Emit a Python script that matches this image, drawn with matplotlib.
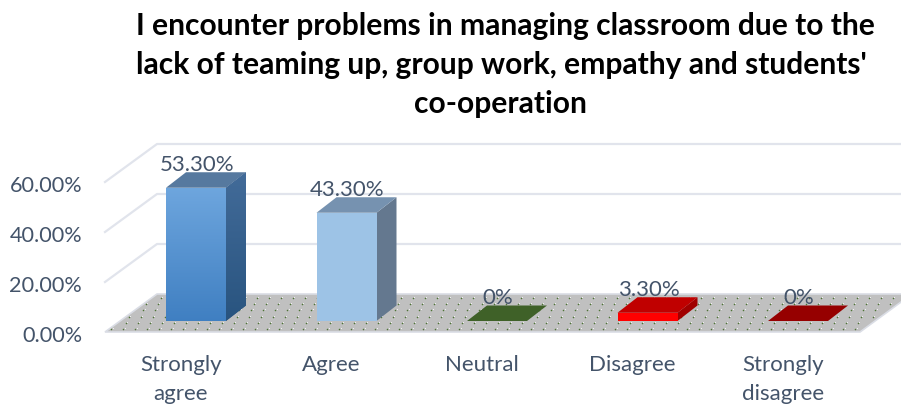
import numpy as np
import matplotlib
matplotlib.use('Agg')
import matplotlib.pyplot as plt
from matplotlib.patches import Polygon

plt.rcParams['font.family'] = ['Lato', 'DejaVu Sans']

categories = ['Strongly\nagree', 'Agree', 'Neutral', 'Disagree', 'Strongly\ndisagree']
values = [53.3, 43.3, 0, 3.3, 0]
value_labels = ['53.30%', '43.30%', '0%', '3.30%', '0%']
tick_values = [0, 20, 40, 60]
tick_labels = ['0.00%', '20.00%', '40.00%', '60.00%']
title_lines = ["I encounter problems in managing classroom due to the",
               "lack of teaming up, group work, empathy and students'",
               "co-operation"]
front_colors = ['#5B9BD5', '#9DC3E6', '#548235', '#FF0000', '#C00000']
top_colors = ['#56799F', '#7692B0', '#3F6128', '#C00000', '#960000']
side_colors = ['#3E6288', '#64788F', '#35521F', '#A00000', '#800000']

W, H = 901, 407
PX_X = 150.5    # pixels per category
PX_Y = 2.5      # pixels per percent
X0, Y0 = 196, 321   # pixel of first category centre, value 0


def px(x, y):
    # pixel position to axes data units
    return (x - X0) / PX_X, (Y0 - y) / PX_Y


fig = plt.figure(figsize=(W / 100, H / 100), dpi=100)
ax = fig.add_axes([0, 0, 1, 1])
ax.set_xlim(-X0 / PX_X, (W - X0) / PX_X)
ax.set_ylim((Y0 - H) / PX_Y, Y0 / PX_Y)
ax.axis('off')

bar_w = 60 / PX_X
dep_x, dep_y = 20 / PX_X, 15.5 / PX_Y
wall_x, wall_y = 52 / PX_X, 38 / PX_Y
floor_front = -11 / PX_Y
floor_l = px(105, 0)[0]
floor_r = px(860, 0)[0]
grid_col = '#E1E4EC'

# walls
for v in tick_values:
    y = v + floor_front + wall_y
    if v > 0:
        ax.plot([floor_l, floor_l + wall_x, floor_r + wall_x],
                [y - wall_y, y, y], color=grid_col, lw=1.6, zorder=1)

# floor
floor = Polygon([(floor_l, floor_front), (floor_r, floor_front),
                 (floor_r + wall_x, floor_front + wall_y),
                 (floor_l + wall_x, floor_front + wall_y)],
                fc='#C0C0C0', ec='#DADDE5', lw=1.2, zorder=2)
ax.add_patch(floor)
fx, fy = [], []
for row in range(6):
    t = (row + 0.4) / 6
    shift = 6 if row % 2 else 0
    py = 332 - 38 * t
    for xp in np.arange(108, 905, 12.0):
        p = xp + shift + 52 * t
        if p < 860 + 52 * t - 2:
            q = px(p, py)
            fx.append(q[0])
            fy.append(q[1])
ax.scatter(fx, fy, s=5, marker='.', color='#4E7335', lw=0, zorder=3)
ax.scatter(np.array(fx) + 1.2 / PX_X, np.array(fy) + 1.2 / PX_Y, s=2, marker='.',
           color='#F4F4F4', lw=0, zorder=3)

# bars
for i, v in enumerate(values):
    l, r = i - bar_w / 2, i + bar_w / 2
    z = 4
    ax.add_patch(Polygon([(r, 0), (r + dep_x, dep_y), (r + dep_x, v + dep_y), (r, v)],
                         fc=side_colors[i], ec='none', zorder=z))
    ax.add_patch(Polygon([(l, v), (r, v), (r + dep_x, v + dep_y), (l + dep_x, v + dep_y)],
                         fc=top_colors[i], ec='none', zorder=z))
    if v > 0:
        front = Polygon([(l, 0), (r, 0), (r, v), (l, v)], fc=front_colors[i], ec='none', zorder=z)
        ax.add_patch(front)
    if i == 0:
        # first bar has a vertical gradient
        grad = np.linspace(0, 1, 64)[:, None]
        c1, c2 = np.array([0.43, 0.65, 0.87]), np.array([0.25, 0.50, 0.76])
        img = (c1 + (c2 - c1) * grad[:, :, None]).reshape(64, 1, 3)
        im = ax.imshow(img, extent=(l, r, 0, v), aspect='auto', zorder=z + 0.1)
        im.set_clip_path(front)
        side = Polygon([(r, 0), (r + dep_x, dep_y), (r + dep_x, v + dep_y), (r, v)], transform=ax.transData)
        c1, c2 = np.array([0.26, 0.42, 0.60]), np.array([0.16, 0.33, 0.50])
        img2 = (c1 + (c2 - c1) * grad[:, :, None]).reshape(64, 1, 3)
        im2 = ax.imshow(img2, extent=(r, r + dep_x, 0, v + dep_y), aspect='auto', zorder=z + 0.1)
        im2.set_clip_path(side)
        ax.set_xlim(-X0 / PX_X, (W - X0) / PX_X)
        ax.set_ylim((Y0 - H) / PX_Y, Y0 / PX_Y)
    ax.text(i + 1 / PX_X, v + dep_y - 1.2, value_labels[i], ha='center', va='bottom',
            fontsize=16, color='#44546A', zorder=6)

# y tick labels
for v, lab in zip(tick_values, tick_labels):
    ax.text(px(82, 0)[0], v + floor_front - 1.5, lab, ha='right', va='center',
            fontsize=15.6, color='#44546A')

# category labels
for i, c in enumerate(categories):
    ax.text(i - 0.1, px(0, 355)[1], c, ha='center', va='top', fontsize=16,
            color='#44546A', linespacing=1.55)

# title, one text per line so the spacing matches
fig.text(136 / W, 1 - 35 / H, title_lines[0], ha='left', va='baseline', fontsize=21.6,
         fontweight='bold', color='black')
fig.text(136 / W, 1 - 74 / H, title_lines[1], ha='left', va='baseline', fontsize=21.6,
         fontweight='bold', color='black')
fig.text(500 / W, 1 - 113 / H, title_lines[2], ha='center', va='baseline', fontsize=21.6,
         fontweight='bold', color='black')

fig.savefig('out.png', dpi=100)
